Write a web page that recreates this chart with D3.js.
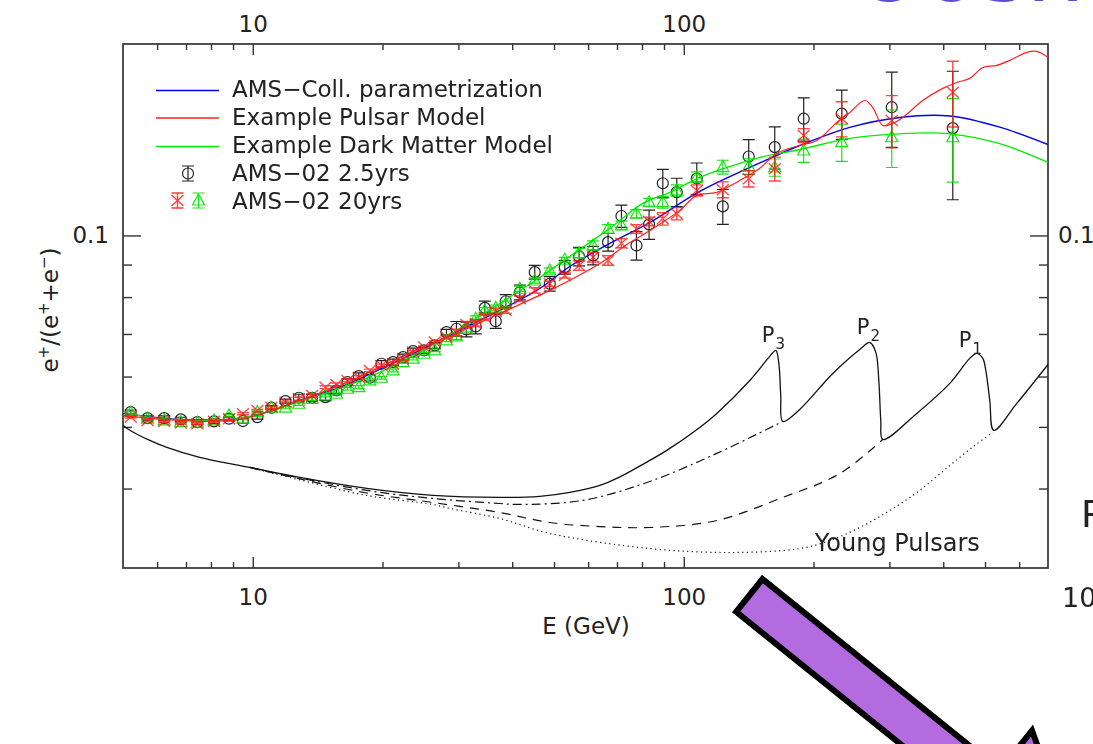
<!DOCTYPE html>
<html>
<head>
<meta charset="utf-8">
<script src="https://cdn.jsdelivr.net/npm/d3@7"></script>
<style>
  body { margin: 0; background: #fff; }
  svg { display: block; }
  text { font-family: 'DejaVu Sans', sans-serif; }
</style>
</head>
<body>
<svg id="chart" width="1093" height="744"></svg>
<script>
// ---- Energy bins (GeV) shared by the measured and projected positron fraction ----
const binE = [5.21, 5.70, 6.23, 6.81, 7.44, 8.13, 8.81, 9.49, 10.25, 11.05,
  11.91, 12.79, 13.73, 14.75, 15.64, 16.59, 17.62, 18.69, 19.89, 21.16,
  22.33, 23.55, 24.97, 26.44, 28.15, 29.69, 31.32, 32.91, 34.54, 36.63,
  38.64, 41.65, 45.11, 48.88, 52.96, 57.18, 61.61, 66.74, 71.68, 77.68,
  83.10, 89.41, 96.34, 107.2, 123.2, 141.5, 162.6, 189.8, 232.6, 303.8, 420.9];

// AMS-02 2.5 years
const ams25V = [0.05276, 0.05162, 0.05162, 0.05138, 0.05088, 0.05101, 0.05151, 0.05107, 0.05181, 0.05360,
  0.05489, 0.05557, 0.05557, 0.05569, 0.05705, 0.05879, 0.06009, 0.05974, 0.06285, 0.06322,
  0.06437, 0.06579, 0.06596, 0.06715, 0.07047, 0.07133, 0.07115, 0.07193, 0.07694, 0.07332,
  0.07880, 0.08137, 0.08756, 0.08395, 0.08916, 0.09268, 0.09302, 0.09761, 0.1073, 0.09644,
  0.1041, 0.1208, 0.1170, 0.1229, 0.1111, 0.1331, 0.1377, 0.1526, 0.1554, 0.1591, 0.1475];
const ams25Err = [0.0004, 0.0004, 0.0004, 0.0004, 0.0004, 0.0004, 0.0004, 0.0004, 0.0004, 0.0004,
  0.0004, 0.0007, 0.0007, 0.0007, 0.0007, 0.0007, 0.0007, 0.0007, 0.0007, 0.0007,
  0.0007, 0.0007, 0.0007, 0.0007, 0.0007, 0.0019, 0.0019, 0.0019, 0.0019, 0.0019,
  0.0019, 0.0022, 0.0022, 0.0022, 0.0022, 0.0031, 0.0031, 0.0031, 0.0043, 0.0050,
  0.0055, 0.0062, 0.0060, 0.0071, 0.0070, 0.0084, 0.0105, 0.0119, 0.0138, 0.0215, 0.0337];

// AMS-02 20 years, pulsar scenario
const pulsar20V = [0.05181, 0.05119, 0.05101, 0.05070, 0.05059, 0.05101, 0.05151, 0.05245, 0.05307, 0.05370,
  0.05469, 0.05536, 0.05603, 0.05774, 0.05831, 0.05916, 0.05987, 0.06134, 0.06246, 0.06285,
  0.06400, 0.06556, 0.06675, 0.06798, 0.06922, 0.07039, 0.07245, 0.07271, 0.07439, 0.07603,
  0.07622, 0.07952, 0.08196, 0.08395, 0.08652, 0.08971, 0.09244, 0.09135, 0.09725, 0.1024,
  0.1052, 0.1062, 0.1082, 0.1177, 0.1180, 0.1228, 0.1273, 0.1436, 0.1526, 0.1516, 0.1680];
const pulsar20Err = [0.0002, 0.0002, 0.0002, 0.0002, 0.0002, 0.0002, 0.0002, 0.0002, 0.0002, 0.0002,
  0.0002, 0.0003, 0.0003, 0.0003, 0.0003, 0.0003, 0.0003, 0.0003, 0.0003, 0.0003,
  0.0003, 0.0003, 0.0003, 0.0003, 0.0003, 0.0008, 0.0008, 0.0008, 0.0008, 0.0008,
  0.0008, 0.0008, 0.0008, 0.0008, 0.0008, 0.0016, 0.0016, 0.0016, 0.0016, 0.0016,
  0.0016, 0.0024, 0.0024, 0.0024, 0.0034, 0.0036, 0.0055, 0.0036, 0.0097, 0.0143, 0.0199];

// AMS-02 20 years, dark matter scenario
const dm20V = [0.05264, 0.05151, 0.05119, 0.05088, 0.05077, 0.05119, 0.05212, 0.05151, 0.05276, 0.05360,
  0.05360, 0.05437, 0.05536, 0.05603, 0.05638, 0.05741, 0.05774, 0.05916, 0.05974, 0.06134,
  0.06322, 0.06400, 0.06516, 0.06596, 0.06838, 0.06940, 0.07133, 0.07396, 0.07622, 0.07694,
  0.07808, 0.08245, 0.08495, 0.08810, 0.09158, 0.09380, 0.09644, 0.1024, 0.1037, 0.1082,
  0.1128, 0.1128, 0.1177, 0.1235, 0.1281, 0.1284, 0.1279, 0.1360, 0.1402, 0.1427, 0.1427];
const dm20Err = [0.0002, 0.0002, 0.0002, 0.0002, 0.0002, 0.0002, 0.0002, 0.0002, 0.0002, 0.0002,
  0.0002, 0.0003, 0.0003, 0.0003, 0.0003, 0.0003, 0.0003, 0.0003, 0.0003, 0.0003,
  0.0003, 0.0003, 0.0003, 0.0003, 0.0003, 0.0008, 0.0008, 0.0008, 0.0008, 0.0008,
  0.0008, 0.0008, 0.0008, 0.0008, 0.0008, 0.0016, 0.0016, 0.0016, 0.0016, 0.0016,
  0.0016, 0.0024, 0.0024, 0.0024, 0.0032, 0.0036, 0.0040, 0.0057, 0.0094, 0.0148, 0.0214];

// ---- Model curves ----
const paramE = [5.0, 5.77, 6.77, 7.95, 9.33, 10.95, 12.85, 15.92, 19.71, 24.40, 30.22, 37.42,
  46.34, 54.39, 67.34, 83.41, 108.9, 142.3, 185.8, 242.8, 317.1, 414.2, 541.1, 700];
const paramV = [0.0525, 0.05185, 0.05138, 0.05128, 0.05157, 0.05289, 0.05502, 0.05768, 0.06157, 0.06596,
  0.0709, 0.07622, 0.08253, 0.08938, 0.09714, 0.1048, 0.1173, 0.1279, 0.1385, 0.1479, 0.1533, 0.1541, 0.1480, 0.1390];

const pulsarE = [5.0, 5.77, 6.77, 7.95, 9.33, 10.95, 12.85, 15.92, 19.71, 24.40, 28.65, 37.42, 48.88,
  63.86, 73.74, 83.41, 97.88, 107.2, 119.3, 134.9, 150.1, 164.4, 185.8, 203.5, 226.5, 242.8, 263.0,
  274.5, 289.6, 305.4, 322.2, 358.5, 399.0, 429.9, 460.9, 494.1, 532.5, 570.8, 624.9, 659.2, 700];
const pulsarV = [0.05212, 0.05157, 0.05119, 0.05101, 0.05138, 0.05289, 0.05502, 0.05810, 0.06202, 0.06644,
  0.06940, 0.07539, 0.08196, 0.09036, 0.09679, 0.1018, 0.1095, 0.1156, 0.1169, 0.1220, 0.1275, 0.1346,
  0.1385, 0.1410, 0.1506, 0.1561, 0.1630, 0.1589, 0.1489, 0.1500, 0.1533, 0.1630, 0.1703, 0.1740,
  0.1766, 0.1837, 0.1851, 0.1885, 0.1940, 0.1947, 0.1905];

const dmE = [5.0, 5.77, 6.77, 7.95, 9.33, 10.95, 12.85, 15.92, 19.71, 24.40, 30.22, 37.42, 46.34,
  53.52, 67.34, 80.34, 92.80, 108.9, 125.9, 150.1, 185.8, 242.8, 317.1, 414.2, 541.1, 700];
const dmV = [0.05270, 0.05176, 0.05128, 0.05119, 0.05157, 0.05289, 0.05482, 0.05747, 0.06091, 0.06548,
  0.07141, 0.07817, 0.08590, 0.09201, 0.1026, 0.1123, 0.1169, 0.1234, 0.1279, 0.1326, 0.1365, 0.1421,
  0.1445, 0.1445, 0.1394, 0.1303];

// Young pulsar contributions (total and partial sums)
const totalE = [5.0, 5.27, 5.77, 6.32, 7.53, 9.84, 12.85, 18.39, 26.16, 37.42, 46.34, 54.39, 63.86, 69.89,
  83.41, 91.33, 108.9, 119.3, 142.3, 158.3, 163.5, 166.1, 167.9, 169.7, 185.8, 221.7, 256.1, 270.2,
  279.0, 283.5, 286.5, 289.6, 347.2, 414.2, 460.9, 478.5, 494.1, 502.1, 512.9, 524.0, 592.5, 700];
const totalV = [0.05027, 0.04909, 0.04761, 0.04642, 0.04477, 0.04318, 0.04164, 0.04001, 0.03901, 0.03873,
  0.03887, 0.03944, 0.04045, 0.04149, 0.04429, 0.04592, 0.04990, 0.05250, 0.05916, 0.06454, 0.06596, 0.06315,
  0.05603, 0.05101, 0.05327, 0.06067, 0.06618, 0.06787, 0.06548, 0.05916, 0.05119, 0.04778, 0.05250,
  0.05853, 0.06408, 0.06526, 0.06408, 0.06134, 0.05502, 0.04937, 0.05443, 0.06268];
const noP3E = [9.84, 12.85, 18.39, 26.16, 37.42, 40.97, 58.31, 83.41, 119.3, 169.7];
const noP3V = [0.04318, 0.04157, 0.03973, 0.03859, 0.03789, 0.03776, 0.03832, 0.04104, 0.04543, 0.05101];
const noP23E = [9.84, 12.85, 18.39, 26.16, 37.42, 48.88, 63.86, 83.41, 119.3, 169.7, 230.1, 289.6];
const noP23V = [0.04318, 0.04142, 0.03936, 0.03803, 0.03668, 0.03537, 0.03486, 0.03474, 0.03563, 0.03873, 0.04223, 0.04778];
const youngE = [9.84, 12.85, 18.39, 26.16, 28.65, 37.42, 48.88, 83.41, 129.9, 185.8, 218.2, 256.1,
  300.6, 352.8, 414.2, 473.4, 521.2];
const youngV = [0.04318, 0.04127, 0.03901, 0.03776, 0.03722, 0.03589, 0.03400, 0.03219, 0.03173, 0.03219,
  0.03314, 0.03474, 0.03695, 0.03973, 0.04347, 0.04676, 0.04900];

// ---- Axis ticks ----
const xMajor = [10, 100];
const xMinor = [6, 7, 8, 9, 20, 30, 40, 50, 60, 70, 80, 90, 200, 300, 400, 500, 600];
const yMajor = [0.1];
const yMinor = [0.04, 0.05, 0.06, 0.07, 0.08, 0.09];

const svg = d3.select("#chart");
svg.append("rect").attr("width", 1093).attr("height", 744).attr("fill", "#fff");

const P = { l: 123, r: 1048, t: 44, b: 568 };
const x = d3.scaleLog().domain([5, 700]).range([P.l, P.r]);
const y = d3.scaleLog().domain([0.03, 0.2]).range([P.b, P.t]);
const FONT = "'DejaVu Sans', sans-serif";
const INK = "#222";

// ---- Axes: inward ticks on all four sides ----
function addAxis(gen, tr, vals, size, fmt, pad) {
  const g = svg.append("g").attr("transform", tr)
    .call(gen.tickValues(vals).tickSize(-size).tickSizeOuter(0).tickPadding(pad).tickFormat(fmt));
  g.select(".domain").remove();
  g.attr("font-family", FONT).attr("font-size", 23).attr("color", "#333");
  g.selectAll("line").attr("stroke-width", 1.4);
  g.selectAll("text").attr("fill", "#222");
  return g;
}
const none = () => "";
const fmtX = d => String(d);
addAxis(d3.axisBottom(x), `translate(0,${P.b})`, xMajor, 11, fmtX, 21);
addAxis(d3.axisBottom(x), `translate(0,${P.b})`, xMinor, 6, none, 0);
addAxis(d3.axisTop(x), `translate(0,${P.t})`, xMajor, 11, fmtX, 12);
addAxis(d3.axisTop(x), `translate(0,${P.t})`, xMinor, 6, none, 0);
addAxis(d3.axisLeft(y), `translate(${P.l},0)`, yMajor, 18, d => "0.1", 14);
addAxis(d3.axisLeft(y), `translate(${P.l},0)`, yMinor, 9, none, 0);
addAxis(d3.axisRight(y), `translate(${P.r},0)`, yMajor, 18, d => "0.1", 10);
addAxis(d3.axisRight(y), `translate(${P.r},0)`, yMinor, 9, none, 0);

svg.append("rect").attr("x", P.l).attr("y", P.t)
  .attr("width", P.r - P.l).attr("height", P.b - P.t)
  .attr("fill", "none").attr("stroke", "#333").attr("stroke-width", 1.7);

// ---- Axis titles ----
svg.append("text").attr("x", 586).attr("y", 634).attr("text-anchor", "middle")
  .attr("font-size", 23).attr("fill", INK).text("E (GeV)");
const yt = svg.append("text").attr("transform", "translate(58,310) rotate(-90)")
  .attr("text-anchor", "middle").attr("font-size", 23).attr("fill", INK);
yt.append("tspan").text("e");
yt.append("tspan").attr("font-size", 15).attr("dy", -9).text("+");
yt.append("tspan").attr("dy", 9).text("/(e");
yt.append("tspan").attr("font-size", 15).attr("dy", -9).text("+");
yt.append("tspan").attr("dy", 9).text("+e");
yt.append("tspan").attr("font-size", 15).attr("dy", -9).text("\u2212");
yt.append("tspan").attr("dy", 9).text(")");

// ---- Curves ----
const plot = svg.append("g");
const smooth = d3.line().x(d => x(d[0])).y(d => y(d[1])).curve(d3.curveCatmullRom.alpha(0.5));
function curve(E, V, color, width, dash) {
  plot.append("path").datum(d3.zip(E, V)).attr("d", smooth)
    .attr("fill", "none").attr("stroke", color).attr("stroke-width", width)
    .attr("stroke-dasharray", dash || null);
}
curve(youngE, youngV, "#111", 1.2, "1.2,3.4");
curve(noP23E, noP23V, "#111", 1.2, "9,7");
curve(noP3E, noP3V, "#111", 1.2, "9,4,2,4");
curve(totalE, totalV, "#111", 1.3);

// ---- Data points with error bars ----
function points(vals, errs, color, marker, opacity, sw) {
  const data = binE.map((E, i) => ({ E, v: vals[i], e: errs[i] }));
  const g = plot.append("g").attr("stroke", color).attr("fill", "none")
    .attr("stroke-width", sw).attr("opacity", opacity);
  const pt = g.selectAll("g").data(data).join("g");
  pt.append("path").attr("d", d => {
    const cx = x(d.E), y0 = y(d.v - d.e), y1 = y(d.v + d.e);
    return `M${cx},${y0}V${y1}M${cx - 6},${y0}h12M${cx - 6},${y1}h12`;
  });
  pt.append("path").attr("transform", d => `translate(${x(d.E)},${y(d.v)})`).attr("d", marker);
}
const circleMark = "M5.5,0A5.5,5.5 0 1,1 -5.5,0A5.5,5.5 0 1,1 5.5,0Z";
const crossMark = "M-6,-5.5L6,5.5M-6,5.5L6,-5.5";
const triMark = "M0,-6.5L6,4.5L-6,4.5Z";
points(ams25V, ams25Err, "#222", circleMark, 1, 1.2);

curve(paramE, paramV, "#0000ee", 1.4);
curve(dmE, dmV, "#00ee00", 1.3);
points(dm20V, dm20Err, "#00e000", triMark, 0.9, 1.2);
curve(pulsarE, pulsarV, "#ff2020", 1.2);
points(pulsar20V, pulsar20Err, "#ff1a1a", crossMark, 0.8, 1.4);

// ---- Annotations ----
const pLabels = [
  { n: "3", E: 151.7, v: 0.06798 },
  { n: "2", E: 252.0, v: 0.0701 },
  { n: "1", E: 434.5, v: 0.0667 }
];
pLabels.forEach(p => {
  const t = svg.append("text").attr("x", x(p.E)).attr("y", y(p.v))
    .attr("font-size", 21).attr("fill", INK);
  t.append("tspan").text("P");
  t.append("tspan").attr("font-size", 15).attr("dx", 1).attr("dy", 7).text(p.n);
});
svg.append("text").attr("x", x(201.4)).attr("y", y(0.03196))
  .attr("font-size", 24).attr("fill", INK).text("Young Pulsars");

// ---- Legend ----
const lg = svg.append("g").attr("font-size", 23).attr("fill", INK);
[["#0000ee", 90.5], ["#ff2020", 118], ["#00ee00", 146.5]].forEach(([c, ly]) => {
  lg.append("line").attr("x1", 156).attr("x2", 219).attr("y1", ly).attr("y2", ly)
    .attr("stroke", c).attr("stroke-width", 1.6);
});
["AMS\u2212Coll. parametrization", "Example Pulsar Model", "Example Dark Matter Model",
 "AMS\u221202 2.5yrs", "AMS\u221202 20yrs"].forEach((s, i) => {
  lg.append("text").attr("x", 232).attr("y", 97 + 28 * i).text(s);
});
function legendMark(cx, cy, color, marker, opacity, sw) {
  const g = lg.append("g").attr("stroke", color).attr("fill", "none")
    .attr("stroke-width", sw).attr("opacity", opacity);
  g.append("path").attr("d", `M${cx},${cy - 7.5}V${cy + 7.5}M${cx - 6},${cy - 7.5}h12M${cx - 6},${cy + 7.5}h12`);
  g.append("path").attr("transform", `translate(${cx},${cy})`).attr("d", marker);
}
legendMark(188, 173.5, "#222", circleMark, 1, 1.2);
legendMark(177.5, 200.5, "#ff1a1a", crossMark, 0.85, 1.4);
legendMark(198.5, 200.5, "#00e000", triMark, 0.9, 1.2);

// ---- Slide decorations around the figure ----
svg.append("text").attr("x", 1081).attr("y", 527).attr("font-size", 37).attr("fill", "#222").text("P");
svg.append("text").attr("x", 1062).attr("y", 607).attr("font-size", 27).attr("fill", "#222").text("10");
svg.append("text").attr("y", 1).attr("font-size", 95).attr("fill", "#5b4fcf")
  .attr("x", "857 922 980 1026").text("cosm");

// Arrow pointing down and to the right
const dir = [0.779, 0.627], nrm = [-0.627, 0.779];
const S = [749.3, 595.4];
const at = (a, b) => [S[0] + a * dir[0] + b * nrm[0], S[1] + a * dir[1] + b * nrm[1]];
const arrowPts = [at(0, 21), at(0, -21), at(305, -21), at(305, -72), at(423, 0), at(305, 72), at(305, 21)];
svg.append("path").attr("d", "M" + arrowPts.map(p => p.join(",")).join("L") + "Z")
  .attr("fill", "#b46be0").attr("stroke", "#000").attr("stroke-width", 6)
  .attr("stroke-linejoin", "miter");
</script>
</body>
</html>
